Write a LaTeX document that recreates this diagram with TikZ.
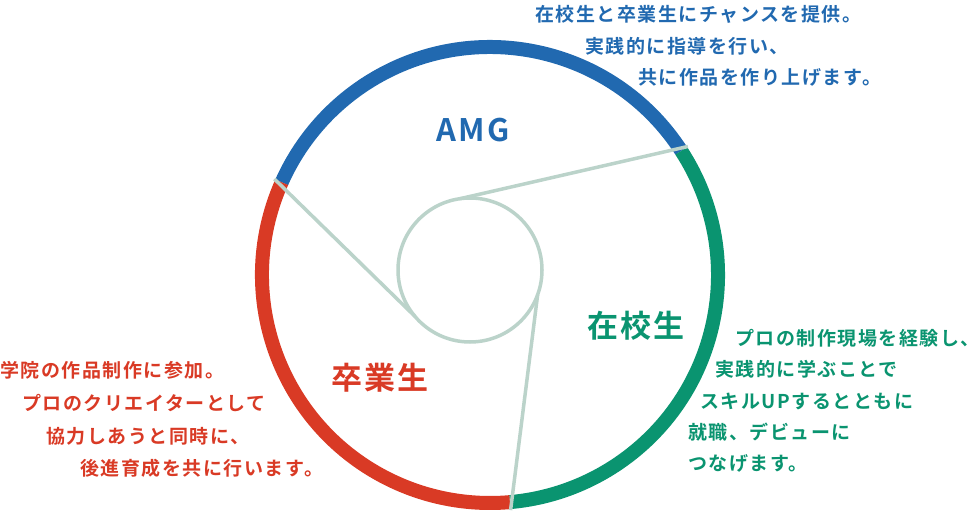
\documentclass[tikz,border=0pt]{standalone}
\usepackage{fontspec}
\setmainfont{Noto Sans CJK JP Bold}[LetterSpace=8]
\usetikzlibrary{calc}
\definecolor{amgblue}{HTML}{2169B0}
\definecolor{zaigreen}{HTML}{0A9470}
\definecolor{sotsured}{HTML}{D93A25}
\definecolor{linegray}{HTML}{BBD3CA}
\tikzset{
  ring/.style={line width=14pt},
  spoke/.style={linegray,line width=3.5pt},
  big/.style={font=\fontsize{31}{34}\selectfont},
  note/.style={anchor=west,inner sep=0pt,font=\fontsize{19}{22}\selectfont}
}
\begin{document}
\begin{tikzpicture}[x=1pt,y=-1pt]
  \useasboundingbox (0,0) rectangle (980,513);
  \coordinate (c) at (490,275);
  \coordinate (ic) at (470,270);
  % outer ring
  \draw[ring,amgblue] (c) ++(-33:228) arc[start angle=-33,end angle=-156,radius=228];
  \draw[ring,zaigreen] (c) ++(-33:228) arc[start angle=-33,end angle=85,radius=228];
  \draw[ring,sotsured] (c) ++(-156:228) arc[start angle=-156,end angle=-275,radius=228];
  % spokes
  \draw[spoke] (ic) circle (72);
  \draw[spoke] (c) ++(-33:236) coordinate (pa) -- ($(ic)+(-98:72)$);
  \draw[spoke] (c) ++(-156:236) coordinate (pb) -- ($(ic)+(140:72)$);
  \draw[spoke] (c) ++(85:236) coordinate (pc) -- ($(ic)+(20:72)$);
  % labels
  \node[big,amgblue] (amg) at (473,130) {AMG};
  \node[big,zaigreen] (zai) at (636,326) {在校生};
  \node[big,sotsured] (sot) at (380,378) {卒業生};
  % notes
  \node[note,amgblue] (t1) at (535,14) {在校生と卒業生にチャンスを提供。};
  \node[note,amgblue] (t2) at (585,46) {実践的に指導を行い、};
  \node[note,amgblue] (t3) at (638,77) {共に作品を作り上げます。};
  \node[note,zaigreen] (g1) at (735,338) {プロの制作現場を経験し、};
  \node[note,zaigreen] (g2) at (715,369) {実践的に学ぶことで};
  \node[note,zaigreen] (g3) at (700,401) {スキルUPするとともに};
  \node[note,zaigreen] (g4) at (688,432) {就職、デビューに};
  \node[note,zaigreen] (g5) at (688,463) {つなげます。};
  \node[note,sotsured] (r1) at (0,370) {学院の作品制作に参加。};
  \node[note,sotsured] (r2) at (22,403) {プロのクリエイターとして};
  \node[note,sotsured] (r3) at (46,436) {協力しあうと同時に、};
  \node[note,sotsured] (r4) at (80,468) {後進育成を共に行います。};
\end{tikzpicture}
\end{document}
